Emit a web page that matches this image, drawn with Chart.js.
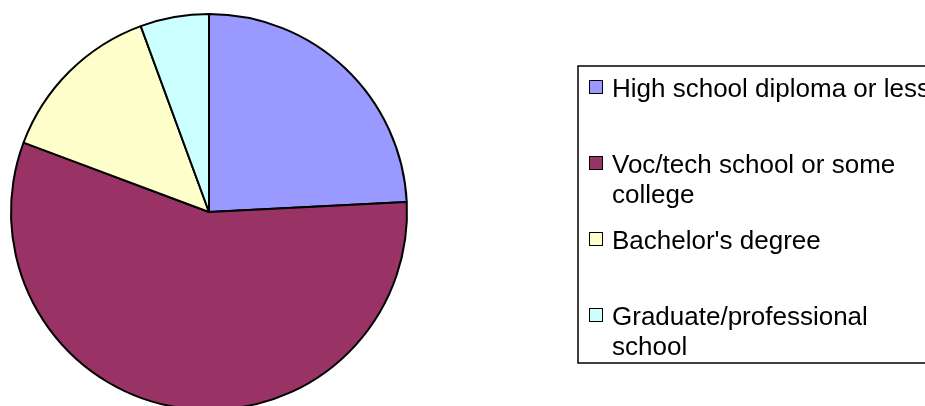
<!DOCTYPE html>
<html>
<head>
<meta charset="utf-8">
<script src="https://cdn.jsdelivr.net/npm/chart.js@4/dist/chart.umd.min.js"></script>
<style>
  html, body { margin: 0; padding: 0; background: #fff; overflow: hidden; }
  .wrap { width: 925px; height: 406px; overflow: hidden; }
</style>
</head>
<body>
<div class="wrap">
  <canvas id="myChart" width="925" height="430"></canvas>
</div>
<script>
const categories = [
    'High school diploma or less',
    'Voc/tech school or some college',
    "Bachelor's degree",
    'Graduate/professional school'
]
const shares = [24.2, 56.5, 13.7, 5.6]
const sliceColors = ['#9999FF', '#993366', '#FFFFCC', '#CCFFFF']

// legend drawn by hand, Excel style: boxed, wrapped labels
const boxLegend = {
    id: 'boxLegend',
    afterDraw(chart) {
        const ctx = chart.ctx
        const colors = chart.data.datasets[0].backgroundColor
        const left = 578, top = 66, bottom = 363
        const firstBase = 97, slot = 76, lineH = 30, wrapW = 310

        ctx.save()
        ctx.lineWidth = 1.5
        ctx.strokeStyle = '#000'
        ctx.strokeRect(left, top, 400, bottom - top)

        ctx.font = '26px "Liberation Sans", Arial, sans-serif'
        ctx.fillStyle = '#000'
        ctx.textBaseline = 'alphabetic'

        chart.data.labels.forEach((label, i) => {
            // wrap words (first label is allowed to run off the edge, like the original)
            const words = label.split(' ')
            const lines = []
            let cur = ''
            words.forEach(w => {
                const test = cur ? cur + ' ' + w : w
                if (cur && i > 0 && ctx.measureText(test).width > wrapW) {
                    lines.push(cur)
                    cur = w
                } else {
                    cur = test
                }
            })
            lines.push(cur)

            const base = firstBase + i * slot
            ctx.fillStyle = colors[i]
            ctx.fillRect(589.5, base - 16.5, 13, 13)
            ctx.lineWidth = 1
            ctx.strokeRect(589.5, base - 16.5, 13, 13)

            ctx.fillStyle = '#000'
            lines.forEach((ln, j) => {
                ctx.fillText(ln, 612, base + j * lineH)
            })
        })
        ctx.restore()
    }
}

const ctx = document.getElementById('myChart').getContext('2d')
new Chart(ctx, {
    type: 'pie',
    data: {
        labels: categories,
        datasets: [
            {
                data: shares,
                backgroundColor: sliceColors,
                borderColor: '#000',
                borderWidth: 2
            }
        ]
    },
    options: {
        responsive: false,
        animation: false,
        devicePixelRatio: 1,
        layout: {
            padding: { left: 10, right: 517, top: 13, bottom: 19 }
        },
        plugins: {
            legend: { display: false },
            tooltip: { enabled: false }
        }
    },
    plugins: [boxLegend]
})
</script>
</body>
</html>
